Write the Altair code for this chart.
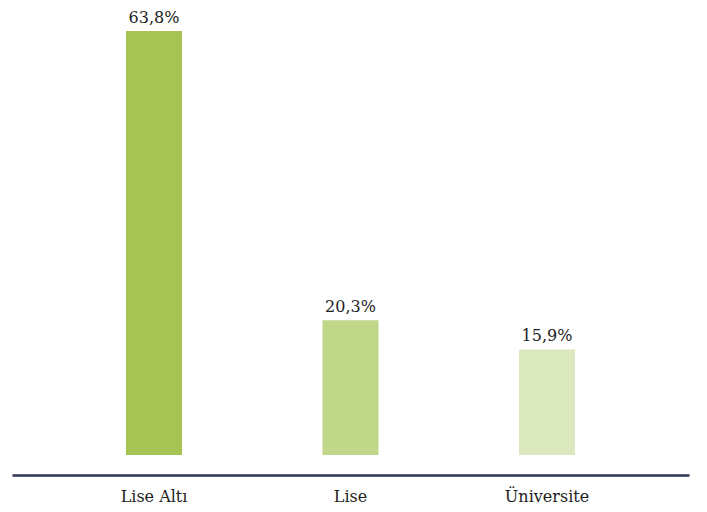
import altair as alt
import pandas as pd

categories = ["Lise Altı", "Lise", "Üniversite"]
values = [63.8, 20.3, 15.9]
colors = ["#a5c454", "#c0d688", "#dbe7bc"]

df = pd.DataFrame({
    "cat": categories,
    "val": values,
    "label": [f"{v:.1f}%".replace(".", ",") for v in values],
})

FONT = "DejaVu Serif"

x = alt.X("cat:N", sort=categories, title=None,
          scale=alt.Scale(paddingInner=0, paddingOuter=0.2226),
          axis=alt.Axis(labelAngle=0, ticks=False, labelPadding=13,
                        labelFont=FONT, labelFontSize=16, labelColor="#222222",
                        domainColor="#2d3552", domainWidth=2.5))
y = alt.Y("val:Q", title=None,
          scale=alt.Scale(domain=[-3, 66.51], nice=False, zero=False),
          axis=None)

bars = alt.Chart(df).mark_bar(size=56).encode(
    x=x, y=y, y2=alt.datum(0),
    color=alt.Color("cat:N", sort=categories,
                    scale=alt.Scale(domain=categories, range=colors), legend=None),
)

text = alt.Chart(df).mark_text(dy=-13, font=FONT, fontSize=16, color="#222222",
                               baseline="middle").encode(
    x=x, y=y, text="label:N")

chart = (bars + text).properties(
    width=677, height=462,
    autosize=alt.AutoSizeParams(type="none"),
    padding={"left": 4, "top": 5, "right": 4, "bottom": 30},
).configure_view(stroke=None).configure_axis(grid=False)

chart.save("out.html", embed_options={"renderer": "svg", "actions": False})
